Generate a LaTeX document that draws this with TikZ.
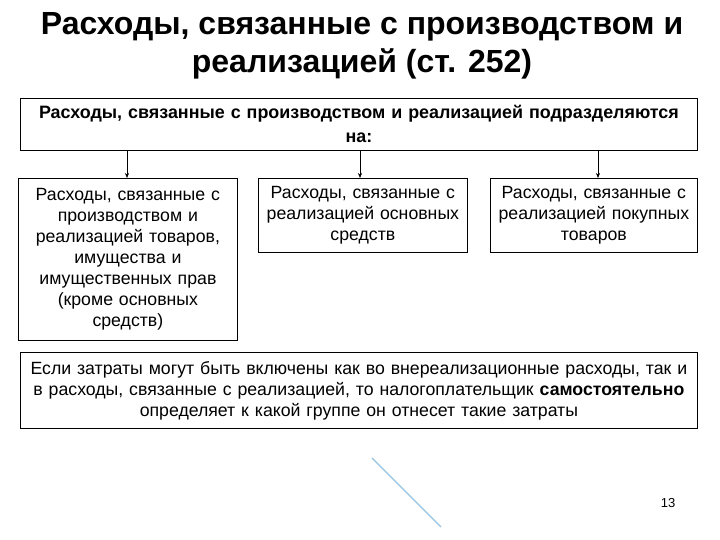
\documentclass[tikz,border=0pt]{standalone}
\usepackage{fontspec}
\setmainfont{Liberation Sans}
\usetikzlibrary{arrows.meta}
\begin{document}
\begin{tikzpicture}[x=1pt,y=-1pt,
  box/.style={draw=black,line width=0.8pt,inner sep=0pt,align=center,anchor=north west},
  body/.style={font=\fontsize{17.7}{21}\selectfont},
  arr/.style={-{Stealth[length=5pt,width=4pt]},line width=0.6pt}]
\useasboundingbox (0,0) rectangle (720,540);
\node[align=center,font=\fontsize{32}{38}\selectfont\bfseries] (title) at (362,46) {Расходы, связанные с производством и\\реализацией (ст. 252)};
\node[box,minimum width=677pt,minimum height=52pt,font=\fontsize{17.9}{24}\selectfont\bfseries,text width=670pt] (top) at (20,98) {Расходы, связанные с производством и реализацией подразделяются\\на:};
\node[box,minimum width=219pt,minimum height=162pt,body,text width=218pt] (b1) at (18,178) {Расходы, связанные с\\производством и\\реализацией товаров,\\имущества и\\имущественных прав\\(кроме основных\\средств)};
\node[box,minimum width=209pt,minimum height=74pt,body,text width=208pt] (b2) at (258,178) {Расходы, связанные с\\реализацией основных\\средств\\[-2pt]};
\node[box,minimum width=207pt,minimum height=74pt,body,text width=206pt] (b3) at (490,178) {Расходы, связанные с\\реализацией покупных\\товаров\\[-2pt]};
\node[box,minimum width=677pt,minimum height=76pt,body,text width=676pt] (bot) at (20,352) {Если затраты могут быть включены как во внереализационные расходы, так и\\в расходы, связанные с реализацией, то налогоплательщик \textbf{самостоятельно}\\определяет к какой группе он отнесет такие затраты};
\coordinate (t1) at (127,150); \coordinate (t2) at (360,150); \coordinate (t3) at (598,150);
\draw[arr] (t1) -- (t1 |- b1.north);
\draw[arr] (t2) -- (t2 |- b2.north);
\draw[arr] (t3) -- (t3 |- b3.north);
\coordinate (l1) at (372,458); \coordinate (l2) at (441,527);
\draw[color={rgb,255:red,150;green,195;blue,225},line width=1.2pt] (l1) -- (l2);
\node[font=\fontsize{13}{15}\selectfont] (num) at (668,503) {13};
\end{tikzpicture}
\end{document}
